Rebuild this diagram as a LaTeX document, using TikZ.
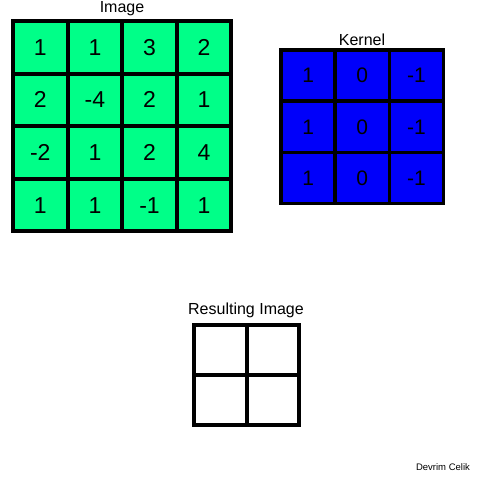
\documentclass[tikz,border=0pt]{standalone}
\usepackage{fontspec}
\setmainfont{Liberation Sans}
\usepackage{tikz}
\usetikzlibrary{positioning}

\definecolor{imggreen}{RGB}{0,255,136}
\definecolor{kernblue}{RGB}{0,0,250}

\begin{document}
\begin{tikzpicture}[x=1pt, y=-1pt]
	\tikzstyle{imgcell} = [rectangle, draw = black, fill = imggreen, line width = 4pt, minimum width = 54.6pt, minimum height = 52.6pt, inner sep = 0pt, font = \fontsize{23}{23}\selectfont]
	\tikzstyle{kerncell} = [rectangle, draw = black, fill = kernblue, line width = 3.6pt, minimum width = 54.2pt, minimum height = 51.2pt, inner sep = 0pt, font = \fontsize{21}{21}\selectfont]
	\tikzstyle{rescell} = [rectangle, draw = black, fill = white, line width = 4pt, minimum width = 52.5pt, minimum height = 50pt, inner sep = 0pt]
	\tikzstyle{title} = [inner sep = 0pt, font = \fontsize{16}{16}\selectfont]
\useasboundingbox (0, 0) rectangle (480, 480);

% image
\node[imgcell] (i11) at (40.3, 47.3) {1};
\node[imgcell] (i12) at (94.9, 47.3) {1};
\node[imgcell] (i13) at (149.5, 47.3) {3};
\node[imgcell] (i14) at (204.1, 47.3) {2};
\node[imgcell] (i21) at (40.3, 99.9) {2};
\node[imgcell] (i22) at (94.9, 99.9) {-4};
\node[imgcell] (i23) at (149.5, 99.9) {2};
\node[imgcell] (i24) at (204.1, 99.9) {1};
\node[imgcell] (i31) at (40.3, 152.5) {-2};
\node[imgcell] (i32) at (94.9, 152.5) {1};
\node[imgcell] (i33) at (149.5, 152.5) {2};
\node[imgcell] (i34) at (204.1, 152.5) {4};
\node[imgcell] (i41) at (40.3, 205.1) {1};
\node[imgcell] (i42) at (94.9, 205.1) {1};
\node[imgcell] (i43) at (149.5, 205.1) {-1};
\node[imgcell] (i44) at (204.1, 205.1) {1};
\node[title] (img) at (122, 9) {Image};

% kernel
\node[kerncell] (k11) at (308.1, 75.6) {1};
\node[kerncell] (k12) at (362.3, 75.6) {0};
\node[kerncell] (k13) at (416.5, 75.6) {-1};
\node[kerncell] (k21) at (308.1, 126.8) {1};
\node[kerncell] (k22) at (362.3, 126.8) {0};
\node[kerncell] (k23) at (416.5, 126.8) {-1};
\node[kerncell] (k31) at (308.1, 178) {1};
\node[kerncell] (k32) at (362.3, 178) {0};
\node[kerncell] (k33) at (416.5, 178) {-1};
\node[title] (kernel) at (362, 40) {Kernel};

% resulting image
\node[rescell] (r11) at (220.3, 350) {};
\node[rescell] (r12) at (272.8, 350) {};
\node[rescell] (r21) at (220.3, 400) {};
\node[rescell] (r22) at (272.8, 400) {};
\node[title] (result) at (246, 310) {Resulting Image};

\node[inner sep = 0pt, font = \fontsize{9.5}{9.5}\selectfont] (author) at (443, 467) {Devrim Celik};
\end{tikzpicture}
\end{document}
